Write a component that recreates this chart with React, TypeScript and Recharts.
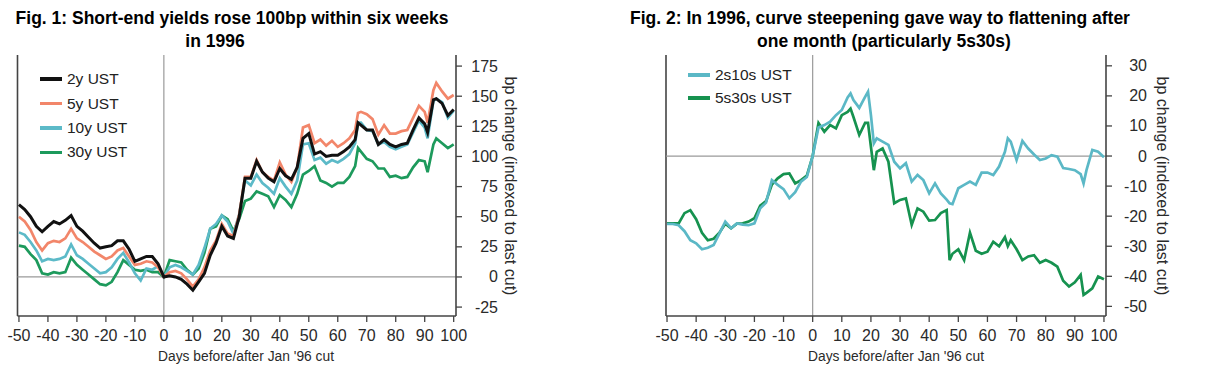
import { Line, LineChart, ReferenceLine, XAxis, YAxis } from 'recharts'

const FONT = '"Liberation Sans", Arial, sans-serif'
const AXIS = '#444'
const ZERO = '#9a9a9a'
const TEXT = '#2a2a2a'

// Fig. 1 – days before/after the Jan '96 cut
const DAYS_1 = [
  -50, -48, -46, -44, -42, -40, -38, -36, -34, -32,
  -30, -28, -26, -24, -22, -20, -18, -16, -14, -12,
  -10, -8, -6, -4, -2, 0, 2, 4, 6, 8,
  10, 12, 14, 16, 18, 20, 22, 24, 26, 28,
  30, 32, 34, 36, 38, 40, 42, 44, 46, 48,
  50, 52, 54, 56, 58, 60, 62, 64, 66, 67,
  68, 70, 72, 74, 76, 78, 80, 82, 84, 86,
  88, 90, 91, 93, 94, 96, 98, 100,
]

const UST_2Y = [
  60, 56, 50, 42, 37.5, 42, 46, 44, 47, 51,
  42, 38, 33, 28, 24, 25, 26, 30, 30, 23,
  13, 15, 17, 17, 11, 0, 1, 0, -2, -6,
  -11, -4, 3, 18, 28, 42, 34, 32, 50, 82,
  82, 96, 87, 82, 79, 90, 84, 81, 91, 115,
  119, 102, 104, 100, 101, 101, 104, 108, 114, 128,
  126, 122, 122, 110, 114, 110, 108, 110, 111, 122,
  132, 127, 120, 147, 148, 144, 134, 139,
]

const UST_5Y = [
  50, 46, 39, 29, 22, 28, 30, 29, 32, 40,
  32, 29, 25, 21, 18, 15, 17, 22, 24, 17,
  10, 11, 13, 12, 8, 0, 4, 5, 3, -2,
  -8, -2, 8, 22, 30, 44, 36, 34, 52, 83,
  83, 97, 87, 83, 80, 95, 85, 79, 91, 124,
  126, 111, 114, 109, 113, 108, 111, 115, 122, 136,
  137, 135, 131, 118, 126, 119, 119, 121, 122, 132,
  142, 137, 128, 155, 161, 154, 148, 151,
]

const UST_10Y = [
  37, 35, 29, 22, 13, 15, 14, 15, 17, 27,
  18, 15, 11, 7, 3, 4, 8, 15, 20, 12,
  3, -3, 7, 6, 9, 0, 8, 10, 8, 5,
  2, 10, 24, 40, 44, 51, 46, 36, 52, 80,
  76, 85, 78, 74, 69, 82, 75, 69, 80, 110,
  111, 97, 99, 94, 97, 95, 98, 102, 111, 128,
  128, 122, 121, 110, 112, 108, 106, 108, 110, 120,
  130, 124, 115, 146, 148, 145, 132, 138,
]

const UST_30Y = [
  26, 25, 19, 14, 3, 2, 4, 3, 4, 16,
  10, 6, 2, -2, -6, -7, -4, 4, 14, 10,
  6, 5, 6, 4, 4, 0, 14, 13, 12, 6,
  2, 7, 20, 40, 42, 51, 48, 38, 48, 63,
  65, 71, 69, 67, 58, 68, 64, 58, 69, 85,
  88, 92, 80, 78, 75, 78, 78, 83, 92, 107,
  104, 98, 96, 90, 90, 83, 84, 82, 83, 91,
  97, 96, 87, 110, 115, 111, 107, 110,
]

// Fig. 2 – curve spreads
const DAYS_2 = [
  -50, -48, -46, -44, -42, -40, -38, -36, -34, -32,
  -30, -28, -26, -24, -22, -20, -18, -16, -14, -12,
  -10, -8, -6, -4, -2, 0, 2, 4, 6, 8,
  10, 12, 13, 14, 16, 18, 19, 20, 21, 22,
  24, 26, 28, 30, 32, 34, 36, 38, 40, 42,
  44, 46, 47, 48, 50, 52, 54, 56, 58, 60,
  62, 64, 66, 67, 68, 70, 72, 74, 76, 78,
  80, 82, 84, 86, 88, 90, 92, 93, 94, 96,
  98, 100,
]

const CURVE_2S10S = [
  -22.6, -22.6, -23, -25, -28, -29, -31, -30.5, -29.6, -25.7,
  -21.8, -24, -22.4, -22.8, -23, -22.4, -17.4, -15.5, -8, -9.6,
  -11, -14, -12, -8.5, -7, 0, 9.5, 10.3, 11.4, 13.6,
  15.3, 19.5, 20.8, 18.6, 16, 19.7, 21.4, 13.6, 4.2, 5.9,
  4.8, 3.7, -1.9, -4.1, -2.4, -8.5, -6.3, -8, -12.4, -9.1,
  -12.4, -14.5, -15.7, -16, -10.7, -9.6, -8.5, -9.6, -5.5, -5.5,
  -6.3, -3.5, 1.4, 5.9, 4.8, -1.3, 5, 2.5, 0.5, -1.3,
  -0.8, 0.3, -0.2, -4, -4.3, -4.7, -6, -9.1, -4.7, 2,
  1.4, -0.4,
]

const CURVE_5S30S = [
  -22.4, -22.4, -22.4, -19, -18, -21, -25.5, -28, -27.5, -25.5,
  -22.5, -24, -22.5, -22.4, -21.8, -20.7, -16.5, -15, -9.5, -7.4,
  -6, -5.8, -9.1, -8, -6.5, 0, 11, 8.1, 10.3, 9.2,
  13.6, 14.7, 15.8, 13, 7, 11, 11, 3.1, -4.7, 1.4,
  2.5, -1.9, -15.7, -14.6, -14.1, -22.9, -17.4, -18.5, -21.5, -21.3,
  -19, -18, -34.6, -32.5, -31, -34.6, -25.5, -31.5, -32.5, -31.8,
  -28.5, -30, -27, -30, -28, -31, -34.6, -33.4, -33, -35.5,
  -34.6, -35.5, -36.8, -41.5, -43.4, -42, -39.5, -46.2, -45.5, -44,
  -40.1, -41,
]

const X_TICKS = [-50, -40, -30, -20, -10, 0, 10, 20, 30, 40, 50, 60, 70, 80, 90, 100]
const Y_TICKS_1 = [-25, 0, 25, 50, 75, 100, 125, 150, 175]
const Y_TICKS_2 = [-50, -40, -30, -20, -10, 0, 10, 20, 30]

const SERIES_1 = [
  { key: 'ust30', name: '30y UST', values: UST_30Y, color: '#1d9a5c', width: 2.7 },
  { key: 'ust10', name: '10y UST', values: UST_10Y, color: '#5cbac8', width: 2.7 },
  { key: 'ust5', name: '5y UST', values: UST_5Y, color: '#f2866a', width: 2.7 },
  { key: 'ust2', name: '2y UST', values: UST_2Y, color: '#111111', width: 3 },
]

const SERIES_2 = [
  { key: 's5s30', name: '5s30s UST', values: CURVE_5S30S, color: '#16924f', width: 2.7 },
  { key: 's2s10', name: '2s10s UST', values: CURVE_2S10S, color: '#5bb8c6', width: 2.7 },
]

const rows1 = DAYS_1.map((day, i) => {
  const row: Record<string, number> = { day }
  SERIES_1.forEach((s) => (row[s.key] = s.values[i]))
  return row
})

const rows2 = DAYS_2.map((day, i) => {
  const row: Record<string, number> = { day }
  SERIES_2.forEach((s) => (row[s.key] = s.values[i]))
  return row
})

function RightTick(props: any) {
  const { x, y, payload, shift } = props
  return (
    <text x={x + shift} y={y} textAnchor="end" dominantBaseline="central" fontSize={16} fill={TEXT} fontFamily={FONT}>
      {payload.value}
    </text>
  )
}

function LegendBox({
  items,
  rowHeight,
  left,
  top,
}: {
  items: { name: string; color: string; width: number }[]
  rowHeight: number
  left: number
  top: number
}) {
  return (
    <div style={{ position: 'absolute', left, top, fontFamily: FONT, fontSize: 15.5, color: '#222' }}>
      {items.map((it) => (
        <div key={it.name} style={{ display: 'flex', alignItems: 'center', height: rowHeight }}>
          <span style={{ display: 'inline-block', width: 22, height: it.width + 0.5, background: it.color }} />
          <span style={{ marginLeft: 5 }}>{it.name}</span>
        </div>
      ))}
    </div>
  )
}

const titleStyle = {
  position: 'absolute' as const,
  fontFamily: FONT,
  fontWeight: 700,
  fontSize: 17.5,
  color: '#000',
  whiteSpace: 'nowrap' as const,
  transform: 'translate(-50%, -50%)',
  lineHeight: 1,
}

const axisTitleStyle = {
  position: 'absolute' as const,
  fontFamily: FONT,
  fontSize: 13.8,
  color: TEXT,
  whiteSpace: 'nowrap' as const,
  transform: 'translate(-50%, -50%)',
  lineHeight: 1,
}

function SideTitle({ cx, cy }: { cx: number; cy: number }) {
  return (
    <div
      style={{
        position: 'absolute',
        left: cx,
        top: cy,
        fontFamily: FONT,
        fontSize: 16,
        color: TEXT,
        whiteSpace: 'nowrap',
        lineHeight: 1,
        transform: 'translate(-50%, -50%) rotate(90deg)',
      }}
    >
      bp change (indexed to last cut)
    </div>
  )
}

export default function App() {
  return (
    <div style={{ position: 'absolute', left: 0, top: 0, width: 1232, height: 373, background: '#fff', overflow: 'hidden' }}>
      <div style={{ ...titleStyle, left: 232, top: 19 }}>Fig. 1: Short-end yields rose 100bp within six weeks</div>
      <div style={{ ...titleStyle, left: 215, top: 42 }}>in 1996</div>
      <div style={{ ...titleStyle, left: 880, top: 19 }}>Fig. 2: In 1996, curve steepening gave way to flattening after</div>
      <div style={{ ...titleStyle, left: 884, top: 42 }}>one month (particularly 5s30s)</div>

      <div style={{ position: 'absolute', left: 0, top: 0 }}>
        <LineChart width={600} height={373} data={rows1} margin={{ top: 55, right: 0, bottom: 0, left: 17.5 }}>
          <XAxis
            type="number"
            dataKey="day"
            domain={[-50.5, 100.8]}
            ticks={X_TICKS}
            allowDataOverflow
            height={57}
            tickSize={6}
            tickMargin={8}
            axisLine={{ stroke: AXIS, strokeWidth: 1.6 }}
            tickLine={{ stroke: AXIS, strokeWidth: 1.3 }}
            tick={{ fontSize: 16, fill: TEXT, fontFamily: FONT }}
          />
          <YAxis
            orientation="right"
            type="number"
            domain={[-32.4, 184.2]}
            ticks={Y_TICKS_1}
            allowDataOverflow
            width={144}
            tickSize={6}
            axisLine={{ stroke: AXIS, strokeWidth: 1.6 }}
            tickLine={{ stroke: AXIS, strokeWidth: 1.3 }}
            tick={(p: any) => <RightTick {...p} shift={34} />}
          />
          <ReferenceLine x={-50.5} stroke={AXIS} strokeWidth={1.6} />
          <ReferenceLine x={0} stroke={ZERO} strokeWidth={1.2} />
          <ReferenceLine y={0} stroke={ZERO} strokeWidth={1.2} />
          {SERIES_1.map((s) => (
            <Line
              key={s.key}
              type="linear"
              dataKey={s.key}
              name={s.name}
              stroke={s.color}
              strokeWidth={s.width}
              dot={false}
              isAnimationActive={false}
            />
          ))}
        </LineChart>
      </div>

      <div style={{ position: 'absolute', left: 620, top: 0 }}>
        <LineChart width={612} height={373} data={rows2} margin={{ top: 55, right: 0, bottom: 0, left: 46 }}>
          <XAxis
            type="number"
            dataKey="day"
            domain={[-50.35, 100.7]}
            ticks={X_TICKS}
            allowDataOverflow
            height={57}
            tickSize={6}
            tickMargin={8}
            axisLine={{ stroke: AXIS, strokeWidth: 1.6 }}
            tickLine={{ stroke: AXIS, strokeWidth: 1.3 }}
            tick={{ fontSize: 16, fill: TEXT, fontFamily: FONT }}
          />
          <YAxis
            orientation="right"
            type="number"
            domain={[-53.2, 33.6]}
            ticks={Y_TICKS_2}
            allowDataOverflow
            width={126}
            tickSize={6}
            axisLine={{ stroke: AXIS, strokeWidth: 1.6 }}
            tickLine={{ stroke: AXIS, strokeWidth: 1.3 }}
            tick={(p: any) => <RightTick {...p} shift={33} />}
          />
          <ReferenceLine x={-50.35} stroke={AXIS} strokeWidth={1.6} />
          <ReferenceLine x={0} stroke={ZERO} strokeWidth={1.2} />
          <ReferenceLine y={0} stroke={ZERO} strokeWidth={1.2} />
          {SERIES_2.map((s) => (
            <Line
              key={s.key}
              type="linear"
              dataKey={s.key}
              name={s.name}
              stroke={s.color}
              strokeWidth={s.width}
              dot={false}
              isAnimationActive={false}
            />
          ))}
        </LineChart>
      </div>

      <LegendBox items={[...SERIES_1].reverse()} rowHeight={24.4} left={40} top={67} />
      <LegendBox items={[...SERIES_2].reverse()} rowHeight={23} left={688} top={63.5} />

      <div style={{ ...axisTitleStyle, left: 246, top: 357 }}>Days before/after Jan '96 cut</div>
      <div style={{ ...axisTitleStyle, left: 896, top: 357 }}>Days before/after Jan '96 cut</div>
      <SideTitle cx={510} cy={186} />
      <SideTitle cx={1162} cy={186} />
    </div>
  )
}
